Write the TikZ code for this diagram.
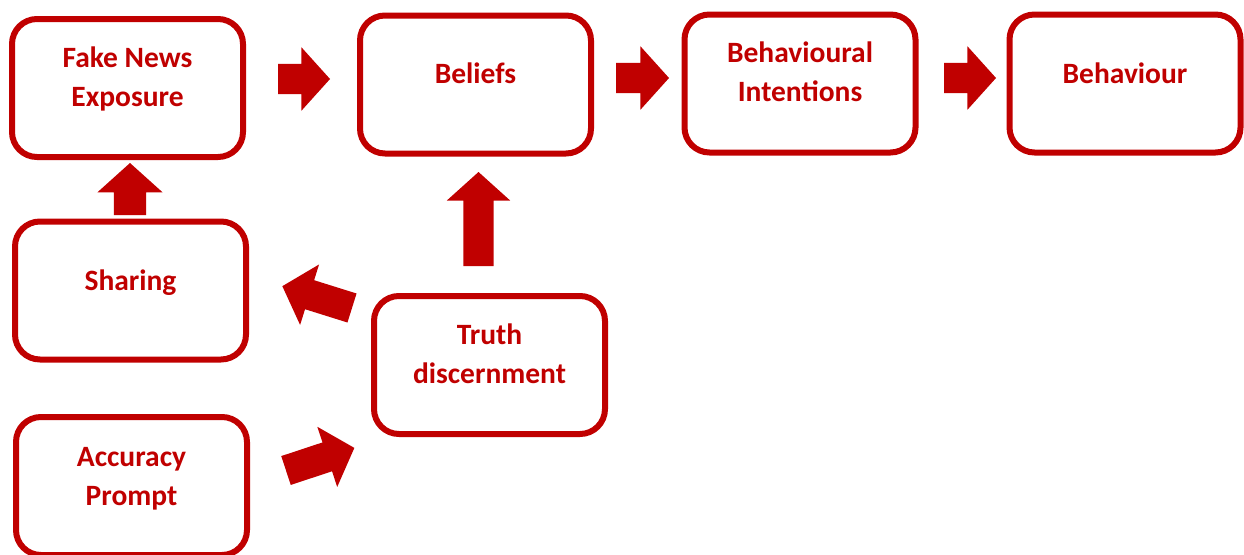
\documentclass[tikz,border=0pt]{standalone}
\usepackage{fontspec}
\setmainfont{Carlito}
\usepackage{tikz}
\usetikzlibrary{shapes.arrows}
\definecolor{darkred}{HTML}{C00000}

\tikzset{
    box/.style={draw=darkred, line width=6pt, rounded corners=25pt,
        minimum width=231pt, minimum height=138pt, inner sep=0pt},
    boxtext/.style={text=darkred, align=center,
        font=\fontsize{29.5}{39}\selectfont\bfseries},
    blockarrow/.style={single arrow, fill=darkred, draw=none, inner xsep=0pt,
        inner ysep=15pt, outer sep=0pt, single arrow head extend=16.5pt,
        single arrow tip angle=96, anchor=tail}
}

\begin{document}
\begin{tikzpicture}[x=1pt,y=1pt]
    \useasboundingbox (0,0) rectangle (1244,-554);

    % boxes
    \foreach \nm/\x/\y/\dy/\txt in {fne/127.5/88/9/{Fake News\\Exposure},
        beliefs/475.5/84.5/11/{Beliefs},
        intentions/800/83.5/11.5/{Behavioural\\Intentions},
        behaviour/1125/83.5/10/{Behaviour},
        sharing/130.5/290.5/8/{Sharing},
        truth/489.5/365/11/{Truth\\discernment},
        accuracy/131.5/486/7.5/{Accuracy\\Prompt}}{%
        \node [box] (\nm) at (\x,-\y) {};
        \node [boxtext] (\nm-text) at ([yshift=\dy pt]\nm.center) {\txt};}

    % block arrows
    \node [blockarrow, minimum height=52pt] (fne-beliefs) at (278,-79) {};
    \node [blockarrow, minimum height=53pt] (beliefs-intentions) at (616,-78) {};
    \node [blockarrow, minimum height=52pt] (intentions-behaviour) at (944,-78) {};
    \node [blockarrow, minimum height=52pt, inner ysep=16pt,
        rotate=90] (sharing-fne) at (130,-215) {};
    \node [blockarrow, minimum height=94pt, rotate=90] (truth-beliefs) at (478.5,-266) {};
    \node [blockarrow, minimum height=73pt, rotate=162.6] (truth-sharing) at (352,-308) {};
    \node [blockarrow, minimum height=72pt, rotate=18.3] (accuracy-truth) at (286,-470.5) {};
\end{tikzpicture}
\end{document}
